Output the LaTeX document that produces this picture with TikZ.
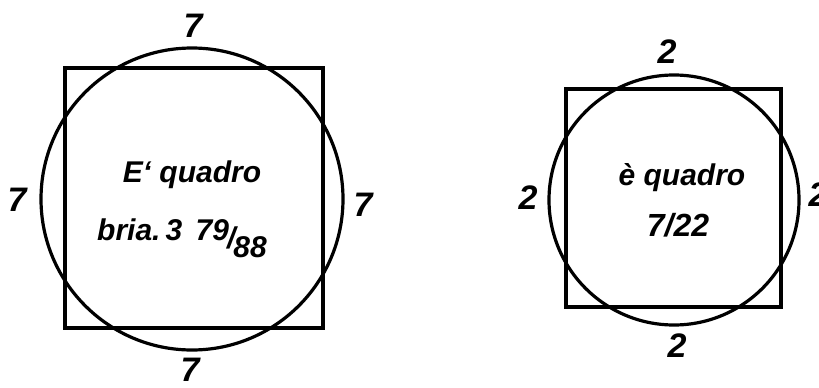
\documentclass[tikz,border=0pt]{standalone}
\usepackage{fontspec}
\setmainfont{Liberation Sans}
\begin{document}
\begin{tikzpicture}[x=1pt,y=-1pt,
  outl/.style={draw=black,line width=3.2pt,inner sep=0pt},
  sq/.style={outl,rectangle},
  circ/.style={outl,circle},
  lbl/.style={font=\fontsize{34}{38}\selectfont\bfseries\itshape,inner sep=0pt},
  txt/.style={font=\fontsize{30}{36}\selectfont\bfseries\itshape,inner sep=0pt,anchor=base}]
\useasboundingbox (0,0) rectangle (819,388);
% left figure
\node[sq,minimum width=258pt,minimum height=260pt] (sqL) at (194,198) {};
\node[circ,minimum size=302pt] (ciL) at (192,199) {};
\node[lbl] (tL) at (193,26) {7};
\node[lbl] (bL) at (190,370) {7};
\node[lbl] (lL) at (17,200) {7};
\node[lbl] (rL) at (363,205) {7};
\node[txt] (aL) at (192,182) {E\symbol{96} quadro};
\node[txt,anchor=base west] (cL) at (97,240) {bria.\,3\hspace{0.45em}79\kern-2pt\raisebox{-8pt}{/}\kern-2pt\raisebox{-17pt}{88}};
% right figure
\node[sq,minimum width=215pt,minimum height=218pt] (sqR) at (673.5,198) {};
\node[circ,minimum size=250pt] (ciR) at (674,200) {};
\node[lbl] (tR) at (667,52) {2};
\node[lbl] (bR) at (677,346) {2};
\node[lbl] (lR) at (528,198) {2};
\node[lbl] (rR) at (818,195) {2};
\node[txt] (aR) at (682,185) {è quadro};
\node[txt,font=\fontsize{32}{36}\selectfont\bfseries\itshape] (cR) at (678,236) {7/22};
\end{tikzpicture}
\end{document}
